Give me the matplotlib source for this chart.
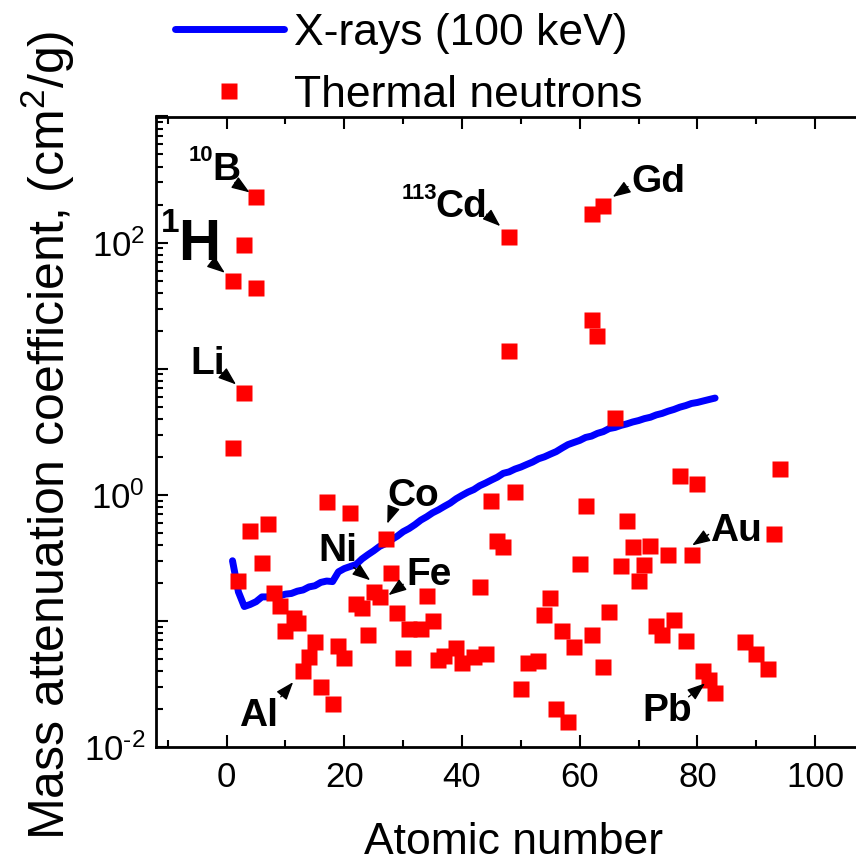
import numpy as np
import matplotlib.pyplot as plt
from matplotlib.ticker import LogLocator, MultipleLocator, FuncFormatter, NullFormatter

plt.rcParams['font.family'] = ['Liberation Sans', 'DejaVu Sans']
plt.rcParams['mathtext.fontset'] = 'custom'
plt.rcParams['mathtext.rm'] = 'Liberation Sans'
plt.rcParams['mathtext.it'] = 'Liberation Sans:italic'
plt.rcParams['mathtext.bf'] = 'Liberation Sans:bold'
plt.rcParams['axes.unicode_minus'] = False

# X-rays, 100 keV (Z = 1..83)
z_xray = np.arange(1, 84)
mu_xray = [0.30, 0.17, 0.13, 0.135, 0.142, 0.155, 0.155, 0.158, 0.158, 0.163,
           0.165, 0.172, 0.176, 0.186, 0.19, 0.202, 0.207, 0.205, 0.245, 0.26,
           0.27, 0.28, 0.31, 0.335, 0.36, 0.39, 0.41, 0.44, 0.47, 0.51,
           0.54, 0.58, 0.63, 0.67, 0.72, 0.76, 0.81, 0.86, 0.93, 0.99,
           1.05, 1.10, 1.18, 1.24, 1.31, 1.38, 1.48, 1.52, 1.60, 1.66,
           1.74, 1.82, 1.93, 2.0, 2.1, 2.2, 2.35, 2.5, 2.6, 2.7,
           2.85, 2.92, 3.07, 3.17, 3.35, 3.42, 3.55, 3.65, 3.78, 3.88,
           4.02, 4.12, 4.30, 4.42, 4.60, 4.75, 4.95, 5.10, 5.30, 5.40,
           5.55, 5.70, 5.85]

# thermal neutrons
z_n = [1, 1, 2, 3, 3, 4, 5, 5, 6, 7,
       8, 9, 10, 11.4, 12.1, 13, 14, 15, 16, 17,
       18, 19, 20, 21, 22, 23, 24, 25, 26, 27,
       28, 29, 30, 31, 33, 34, 35, 36, 37, 39,
       40, 42, 44, 43, 45, 46, 47, 48, 48, 49,
       50, 51.2, 52.9, 54, 55, 56, 57, 58, 59, 60,
       61, 62, 62, 62, 63, 64, 64, 65, 66, 67,
       68, 69, 70, 71, 72, 73, 74, 75, 76, 77,
       78, 79, 80, 81, 82, 83, 88, 90, 92, 93, 94]
mu_n = [50, 2.34, 0.206, 96, 6.4, 0.52, 232, 43.6, 0.288, 0.59,
        0.165, 0.131, 0.083, 0.105, 0.0955, 0.0397, 0.052, 0.0685, 0.030, 0.875,
        0.0219, 0.0637, 0.0506, 0.717, 0.137, 0.126, 0.078, 0.17, 0.155, 0.449,
        0.242, 0.115, 0.0505, 0.087, 0.086, 0.158, 0.1, 0.049, 0.053, 0.061,
        0.046, 0.052, 0.055, 0.186, 0.89, 0.43, 0.386, 111, 13.7, 1.06,
        0.029, 0.046, 0.048, 0.112, 0.152, 0.02, 0.083, 0.0158, 0.0625, 0.285,
        0.81, 170, 24.2, 0.078, 18.2, 194, 0.0434, 0.118, 4.1, 0.273,
        0.615, 0.386, 0.208, 0.28, 0.39, 0.091, 0.077, 0.336, 0.101, 1.41,
        0.0697, 0.331, 1.22, 0.0401, 0.034, 0.027, 0.068, 0.0546, 0.0416, 0.49, 1.6]

# label, superscript, text pos, alignment, size, arrow tail, arrow tip
notes = [
    ('B', '10', (2.3, 315), 'right', 28, (1.4, 300), (3.9, 250)),
    ('H', '1', (-1.1, 73), 'right', 42, (-2.6, 70), (-0.3, 57.6)),
    ('Li', '', (-0.3, 9.05), 'right', 28, (-0.9, 9.4), (1.6, 7.5)),
    ('Cd', '113', (44.3, 160), 'right', 28, (44.2, 168), (46.5, 135)),
    ('Gd', '', (68.8, 254), 'left', 28, (68.2, 278), (65.6, 230)),
    ('Co', '', (27.3, 0.818), 'left', 28, (28.1, 0.74), (27.3, 0.59)),
    ('Ni', '', (22.3, 0.30), 'right', 28, (21.6, 0.265), (24.4, 0.21)),
    ('Fe', '', (30.6, 0.191), 'left', 28, (30.0, 0.195), (27.5, 0.16)),
    ('Al', '', (8.7, 0.0147), 'right', 28, (9.2, 0.0250), (11.3, 0.0327)),
    ('Au', '', (82.2, 0.433), 'left', 28, (81.9, 0.485), (79.1, 0.397)),
    ('Pb', '', (79.1, 0.0161), 'right', 28, (78.5, 0.0250), (81.3, 0.032)),
]

fig = plt.figure(figsize=(8.56, 8.68), dpi=100)
ax = fig.add_axes([156/856, 1-747/868, 718/856, (747-116.5)/868])

ax.plot(z_xray, mu_xray, color='#0000ff', lw=5, solid_capstyle='round',
        label='X-rays (100 keV)')
ax.plot(z_n, mu_n, ls='none', marker='s', ms=12, color='#ff0000', mec='none',
        label='Thermal neutrons')

ax.set_yscale('log')
ax.set_xlim(-12, 110)
ax.set_ylim(1e-2, 1e3)

ax.xaxis.set_major_locator(MultipleLocator(20))
ax.xaxis.set_minor_locator(MultipleLocator(10))
ax.yaxis.set_major_locator(LogLocator(base=10, numticks=10))
ax.yaxis.set_minor_locator(LogLocator(base=10, subs=np.arange(2, 10), numticks=10))
ax.yaxis.set_minor_formatter(NullFormatter())


def fmt_y(v, pos):
    e = int(round(np.log10(v)))
    if e % 2 == 0:
        return r'$10^{\text{%d}}$' % e
    return ''


ax.yaxis.set_major_formatter(FuncFormatter(fmt_y))

ax.tick_params(which='both', direction='in', top=True, right=True, width=1.5,
               labelsize=25)
ax.tick_params(which='major', length=8.5)
ax.tick_params(which='minor', length=5)
ax.tick_params(axis='x', pad=10)
ax.tick_params(axis='y', pad=8)
for s in ax.spines.values():
    s.set_linewidth(2)

renderer = fig.canvas.get_renderer()
for label, sup, pos, ha, size, tail, tip in notes:
    t = ax.text(pos[0], pos[1], label, fontsize=size, fontweight='bold',
                ha=ha, va='baseline')
    if sup:
        w = t.get_window_extent(renderer).width * 72 / fig.dpi
        dx = -w if ha == 'right' else 0
        ax.annotate(sup, xy=pos, xytext=(dx + 1, 0.47 * size), textcoords='offset points',
                    fontsize=0.57 * size, fontweight='bold', ha='right', va='baseline')
    ax.annotate('', xy=tip, xytext=tail,
                arrowprops=dict(arrowstyle='-|>,head_length=1.1,head_width=0.4',
                                color='black', lw=1, shrinkA=0, shrinkB=0))

fig.text(514/856, 1-843/868, 'Atomic number', fontsize=32, ha='center', va='center')
fig.text(48/856, 1-435/868, 'Mass attenuation coefficient, (cm$^2$/g)', fontsize=36,
         rotation=90, ha='center', va='center')

fig.legend(loc='upper left', bbox_to_anchor=(175/856, 1-13/868), frameon=False,
           fontsize=32, handlelength=2.45, handletextpad=0.23, labelspacing=0.47,
           borderpad=0, borderaxespad=0)

fig.savefig('out.png', dpi=100)
